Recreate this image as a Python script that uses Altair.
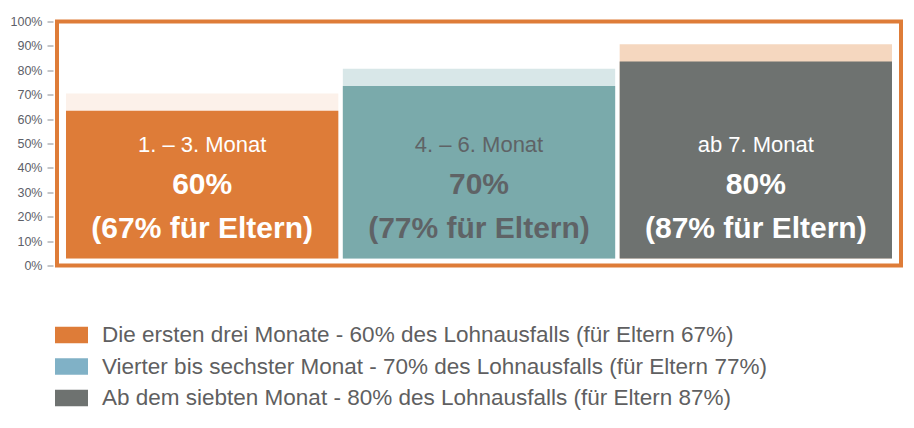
import altair as alt
import pandas as pd

# ---- data ----
categories = ["1. – 3. Monat", "4. – 6. Monat", "ab 7. Monat"]
rates = [60, 70, 80]
parent_rates = [67, 77, 87]
legend_labels = [
    "Die ersten drei Monate - 60% des Lohnausfalls (für Eltern 67%)",
    "Vierter bis sechster Monat - 70% des Lohnausfalls (für Eltern 77%)",
    "Ab dem siebten Monat - 80% des Lohnausfalls (für Eltern 87%)",
]
y_ticks = [0, 10, 20, 30, 40, 50, 60, 70, 80, 90, 100]

# ---- styles ----
bar_colors = ["#DE7C38", "#7AAAAB", "#6E7270"]
hatch_colors = ["#FCF1EA", "#D8E7E8", "#F5D7BF"]
text_colors = ["#FFFFFF", "#5F6366", "#FFFFFF"]
legend_colors = ["#DE7C38", "#80B1C6", "#6E7270"]
FONT = "Liberation Sans"

df = pd.DataFrame({
    "cat": categories,
    "rate": rates,
    "parent": parent_rates,
    "rate_txt": [f"{r}%" for r in rates],
    "parent_txt": [f"({p}% für Eltern)" for p in parent_rates],
    "legend": legend_labels,
    "bar_color": bar_colors,
    "hatch_color": hatch_colors,
    "text_color": text_colors,
})

x = alt.X("cat:N", sort=categories, axis=None,
          scale=alt.Scale(paddingInner=0.0163, paddingOuter=0.0325))
bar_scale = alt.Scale(domain=[-2.84, 96.2], nice=False, zero=False)

# axis + legend layer (invisible marks)
axis_layer = alt.Chart(df).mark_bar(opacity=0).encode(
    x=x,
    y=alt.Y("rate:Q", scale=alt.Scale(domain=[0, 100], nice=False),
            axis=alt.Axis(values=y_ticks, labelExpr="datum.value + '%'",
                          domain=False, grid=False, tickSize=6, tickWidth=1,
                          tickColor="#8A8D92", labelFontSize=12.5,
                          labelColor="#5D6068", labelPadding=5, offset=4,
                          title=None, labelFont=FONT)),
    color=alt.Color("legend:N", sort=legend_labels,
                    scale=alt.Scale(domain=legend_labels, range=legend_colors),
                    legend=alt.Legend(orient="none", legendX=-2, legendY=297,
                                      title=None, direction="vertical",
                                      symbolType="M-1,-0.5H1V0.5H-1Z",
                                      symbolSize=1089, symbolStrokeWidth=0,
                                      symbolOpacity=1, labelOffset=14,
                                      rowPadding=3.5, padding=0,
                                      labelFontSize=22.5, labelColor="#5F5F61",
                                      labelFont=FONT, labelLimit=900)),
)

hatch = alt.Chart(df).mark_bar().encode(
    x=x,
    y=alt.Y("parent:Q", scale=bar_scale, axis=None),
    y2=alt.datum(0),
    fill=alt.Fill("hatch_color:N", scale=None),
)

bars = alt.Chart(df).mark_bar().encode(
    x=x,
    y=alt.Y("rate:Q", scale=bar_scale, axis=None),
    y2=alt.datum(0),
    fill=alt.Fill("bar_color:N", scale=None),
)

def txt(field, size, weight, dy):
    return alt.Chart(df).mark_text(
        baseline="alphabetic", align="center", fontSize=size,
        fontWeight=weight, dy=dy, font=FONT,
    ).encode(
        x=x,
        y=alt.datum(0),
        text=f"{field}:N",
        color=alt.Color("text_color:N", scale=None),
    )

t1 = txt("cat", 22, "normal", -106.5)
t2 = txt("rate_txt", 30, "bold", -65)
t3 = txt("parent_txt", 30, "bold", -21)

bar_group = alt.layer(hatch, bars, t1, t2, t3)

chart = alt.layer(axis_layer, bar_group).resolve_scale(y="independent").properties(
    width=844,
    height=244,
    autosize=alt.AutoSizeParams(type="none"),
    padding={"left": 49, "top": 13.5, "right": 5, "bottom": 150},
    background="white",
).configure(
    font=FONT
).configure_view(
    stroke="#DE7C38", strokeWidth=4
)

chart.save("out.html", embed_options={"renderer": "svg", "actions": False})
